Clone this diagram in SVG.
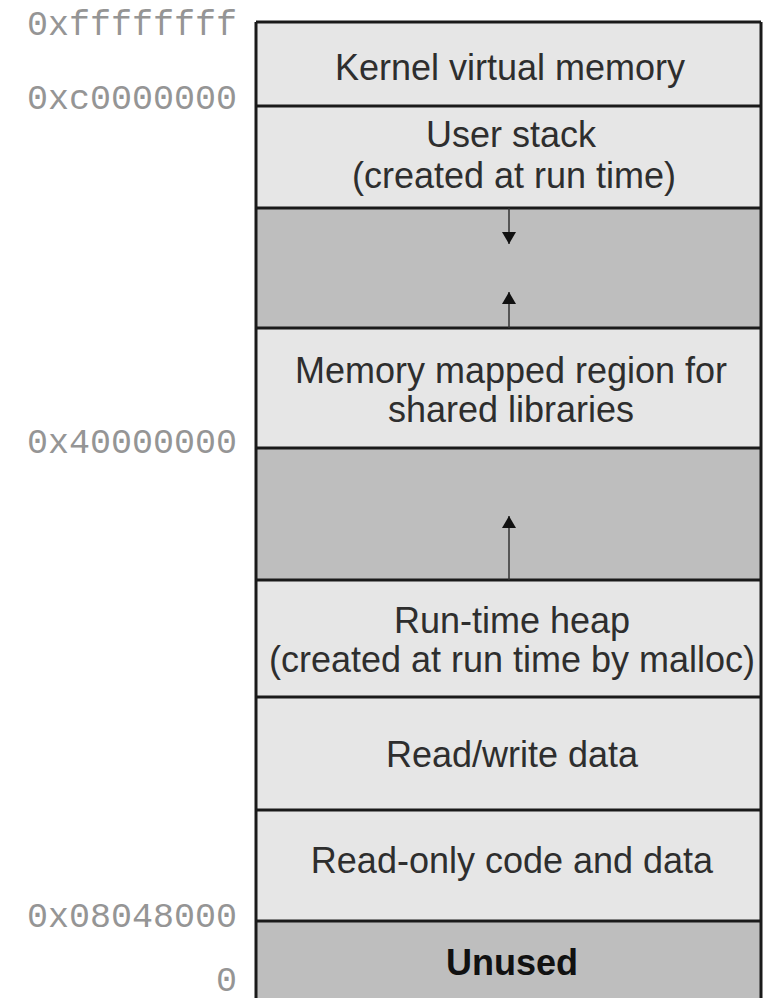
<svg xmlns="http://www.w3.org/2000/svg" width="766" height="998" viewBox="0 0 766 998">
<style>
.light{fill:#e6e6e6}
.dark{fill:#bebebe}
.sep{stroke:#1a1a1a;stroke-width:3;fill:none}
.lbl{font-family:"Liberation Sans",Arial,sans-serif;font-size:36px;fill:#2e2e2e;text-anchor:middle}
.addr{font-family:"Liberation Mono","Courier New",monospace;font-size:35px;fill:#959595;text-anchor:end}
.conn{stroke:#333;stroke-width:1.5;fill:none}
</style>
<defs>
<marker id="ah" viewBox="0 0 12 14" refX="12" refY="7" markerWidth="12" markerHeight="14" markerUnits="userSpaceOnUse" orient="auto">
<path d="M0,0 L12,7 L0,14 z" fill="#111"/>
</marker>
</defs>
<rect width="766" height="998" fill="#fff"/>
<g id="addresses">
<text class="addr" x="237" y="35">0xffffffff</text>
<text class="addr" x="237" y="109">0xc0000000</text>
<text class="addr" x="237" y="453">0x40000000</text>
<text class="addr" x="237" y="927">0x08048000</text>
<text class="addr" x="237" y="991">0</text>
</g>
<g id="kernel"><rect class="light" x="256" y="22" width="505" height="84"/><text class="lbl" x="510" y="80">Kernel virtual memory</text></g>
<g id="stack"><rect class="light" x="256" y="106" width="505" height="102"/><text class="lbl" x="511" y="147">User stack</text><text class="lbl" x="514" y="188">(created at run time)</text></g>
<g id="gap1"><rect class="dark" x="256" y="208" width="505" height="120"/></g>
<g id="shared"><rect class="light" x="256" y="328" width="505" height="120"/><text class="lbl" x="511" y="383">Memory mapped region for</text><text class="lbl" x="511" y="422">shared libraries</text></g>
<g id="gap2"><rect class="dark" x="256" y="448" width="505" height="132"/></g>
<g id="heap"><rect class="light" x="256" y="580" width="505" height="117"/><text class="lbl" x="512" y="633">Run-time heap</text><text class="lbl" x="512" y="672">(created at run time by malloc)</text></g>
<g id="rwdata"><rect class="light" x="256" y="697" width="505" height="113"/><text class="lbl" x="512" y="767">Read/write data</text></g>
<g id="rocode"><rect class="light" x="256" y="810" width="505" height="111"/><text class="lbl" x="512" y="873">Read-only code and data</text></g>
<g id="unused"><rect class="dark" x="256" y="921" width="505" height="80"/><text class="lbl" x="512" y="975" style="font-weight:bold;fill:#111">Unused</text></g>
<g id="borders">
<path class="sep" d="M256,22 H761 M256,106 H761 M256,208 H761 M256,328 H761 M256,448 H761 M256,580 H761 M256,697 H761 M256,810 H761 M256,921 H761 M256,22 V998 M761,22 V998"/>
</g>
<g id="connectors">
<line class="conn" x1="509" y1="208" x2="509" y2="244" marker-end="url(#ah)"/>
<line class="conn" x1="509" y1="328" x2="509" y2="292" marker-end="url(#ah)"/>
<line class="conn" x1="509" y1="580" x2="509" y2="516" marker-end="url(#ah)"/>
</g>
</svg>
